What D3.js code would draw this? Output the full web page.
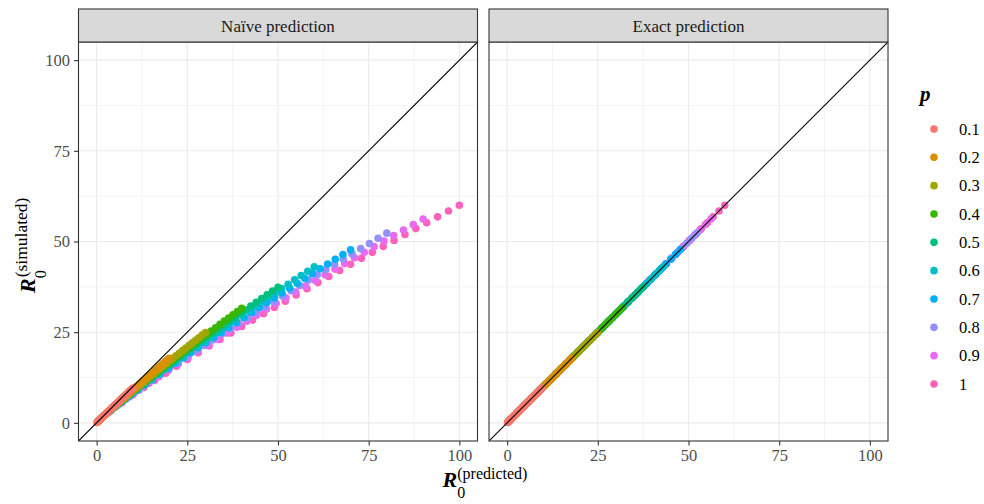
<!DOCTYPE html>
<html><head><meta charset="utf-8">
<script src="https://cdn.jsdelivr.net/npm/d3@7"></script>
<style>body{margin:0;background:#fff}svg{display:block}svg text{font-family:"Liberation Serif","Times New Roman",serif !important}</style>
</head><body>
<svg id="chart" width="984" height="504"></svg>
<script>
// ---- data ----
const pLevels = [0.1,0.2,0.3,0.4,0.5,0.6,0.7,0.8,0.9,1];
const pLabels = ["0.1","0.2","0.3","0.4","0.5","0.6","0.7","0.8","0.9","1"];
const baseR = [1,4,7,10,13,16,19,22,25,28,31,34,37,40,43,46,49,52,55,58,61,64,67,70,73,76,79,82,85,88,91,94,97,100];
const sim_p01 = [0.10,0.41,0.70,1.00,1.29,1.59,1.88,2.17,2.46,2.75,3.04,3.33,3.62,3.90,4.19,4.48,4.76,5.05,5.34,5.62,5.91,6.19,6.48,6.76,7.05,7.33,7.62,7.90,8.18,8.47,8.75,9.03,9.32,9.60];
const sim_p02 = [0.21,0.81,1.38,1.95,2.51,3.06,3.61,4.15,4.70,5.24,5.78,6.31,6.85,7.38,7.91,8.44,8.97,9.49,10.02,10.55,11.07,11.59,12.11,12.63,13.15,13.67,14.19,14.71,15.23,15.74,16.26,16.77,17.29,17.80];
const sim_p03 = [0.32,1.19,2.02,2.82,3.62,4.40,5.18,5.95,6.72,7.48,8.23,8.98,9.73,10.47,11.21,11.95,12.69,13.42,14.15,14.88,15.60,16.33,17.05,17.77,18.49,19.21,19.93,20.64,21.35,22.07,22.78,23.48,24.19,24.90];
const sim_p04 = [0.42,1.55,2.62,3.66,4.68,5.68,6.68,7.66,8.63,9.60,10.56,11.51,12.46,13.40,14.34,15.28,16.21,17.13,18.06,18.98,19.90,20.81,21.72,22.63,23.54,24.44,25.34,26.24,27.14,28.04,28.93,29.82,30.71,31.60];
const sim_p05 = [0.53,1.90,3.19,4.44,5.66,6.86,8.04,9.21,10.36,11.51,12.65,13.78,14.90,16.01,17.12,18.23,19.32,20.42,21.51,22.59,23.67,24.74,25.82,26.88,27.95,29.01,30.07,31.12,32.18,33.23,34.28,35.32,36.37,37.40];
const sim_p06 = [0.63,2.23,3.74,5.19,6.60,7.99,9.35,10.70,12.03,13.35,14.66,15.96,17.25,18.53,19.80,21.07,22.33,23.58,24.83,26.07,27.30,28.53,29.76,30.98,32.20,33.42,34.62,35.83,37.03,38.23,39.43,40.62,41.81,43.00];
const sim_p07 = [0.72,2.55,4.24,5.87,7.45,9.00,10.53,12.03,13.51,14.98,16.44,17.88,19.31,20.73,22.13,23.53,24.93,26.31,27.69,29.06,30.42,31.78,33.13,34.48,35.82,37.16,38.49,39.82,41.14,42.46,43.78,45.09,46.40,47.70];
const sim_p08 = [0.82,2.86,4.74,6.54,8.29,10.00,11.67,13.33,14.96,16.57,18.16,19.74,21.31,22.86,24.41,25.94,27.46,28.98,30.48,31.98,33.47,34.95,36.43,37.89,39.36,40.82,42.27,43.72,45.16,46.60,48.03,49.45,50.88,52.30];
const sim_p09 = [0.91,3.15,5.20,7.15,9.04,10.89,12.70,14.49,16.24,17.98,19.69,21.39,23.07,24.74,26.39,28.04,29.67,31.29,32.90,34.50,36.09,37.68,39.25,40.82,42.39,43.94,45.50,47.04,48.58,50.11,51.64,53.16,54.68,56.19];
const sim_p10 = [1.00,3.43,5.64,7.75,9.78,11.76,13.71,15.62,17.50,19.35,21.18,22.99,24.79,26.57,28.33,30.08,31.82,33.55,35.27,36.97,38.67,40.35,42.03,43.70,45.36,47.01,48.66,50.30,51.93,53.56,55.18,56.79,58.41,60.00];
const simulated = [sim_p01,sim_p02,sim_p03,sim_p04,sim_p05,sim_p06,sim_p07,sim_p08,sim_p09,sim_p10];
const panelTitles = ["Naïve prediction","Exact prediction"];
const axisTicks = [0,25,50,75,100];
const minorTicks = [12.5,37.5,62.5,87.5];
const colors = ["#F8766D","#D89000","#A3A500","#39B600","#00BF7D","#00BFC4","#00B0F6","#9590FF","#E76BF3","#FF62BC"];

// ---- layout ----
const FONT = "Liberation Serif";
const svg = d3.select("#chart");
const plotTop = 42, plotBottom = 441, stripTop = 9;
const panels = [{x0:78.5,x1:477.5},{x0:489,x1:888}];
const y = d3.scaleLinear().domain([-5,105]).range([plotBottom, plotTop]);
const color = d3.scaleOrdinal().domain(pLabels).range(colors);
const dotR = 3.8;

const defs = svg.append("defs");
panels.forEach((pn,i)=>{
  defs.append("clipPath").attr("id","clip"+i).append("rect")
    .attr("x",pn.x0).attr("y",plotTop).attr("width",pn.x1-pn.x0).attr("height",plotBottom-plotTop);
});

panels.forEach((pn,i)=>{
  const x = d3.scaleLinear().domain([-5,105]).range([pn.x0,pn.x1]);
  const g = svg.append("g");
  g.append("rect").attr("x",pn.x0).attr("y",plotTop).attr("width",pn.x1-pn.x0).attr("height",plotBottom-plotTop).attr("fill","#fff");
  minorTicks.forEach(t=>{
    g.append("line").attr("x1",x(t)).attr("x2",x(t)).attr("y1",plotTop).attr("y2",plotBottom).attr("stroke","#EBEBEB").attr("stroke-width",0.6);
    g.append("line").attr("y1",y(t)).attr("y2",y(t)).attr("x1",pn.x0).attr("x2",pn.x1).attr("stroke","#EBEBEB").attr("stroke-width",0.6);
  });
  axisTicks.forEach(t=>{
    g.append("line").attr("x1",x(t)).attr("x2",x(t)).attr("y1",plotTop).attr("y2",plotBottom).attr("stroke","#EBEBEB").attr("stroke-width",1.1);
    g.append("line").attr("y1",y(t)).attr("y2",y(t)).attr("x1",pn.x0).attr("x2",pn.x1).attr("stroke","#EBEBEB").attr("stroke-width",1.1);
  });
  const pts = g.append("g").attr("clip-path","url(#clip"+i+")");
  for (let s = pLevels.length-1; s>=0; s--) {
    const p = pLevels[s];
    const data = baseR.map((r,j)=>({px: i===0 ? p*r : simulated[s][j], sy: simulated[s][j]}));
    pts.selectAll(null).data(data).enter().append("circle")
      .attr("cx",d=>x(d.px)).attr("cy",d=>y(d.sy)).attr("r",dotR)
      .attr("fill",color(pLabels[s]));
  }
  pts.append("line").attr("x1",x(-5)).attr("y1",y(-5)).attr("x2",x(105)).attr("y2",y(105))
    .attr("stroke","#000").attr("stroke-width",1.1);
  g.append("rect").attr("x",pn.x0).attr("y",plotTop).attr("width",pn.x1-pn.x0).attr("height",plotBottom-plotTop)
    .attr("fill","none").attr("stroke","#333333").attr("stroke-width",1.1);
  g.append("rect").attr("x",pn.x0).attr("y",stripTop).attr("width",pn.x1-pn.x0).attr("height",plotTop-stripTop)
    .attr("fill","#D9D9D9").attr("stroke","#333333").attr("stroke-width",1.1);
  g.append("text").attr("x",(pn.x0+pn.x1)/2).attr("y",32).attr("text-anchor","middle")
    .attr("font-family",FONT).attr("font-size",17).attr("fill","#1A1A1A").text(panelTitles[i]);
  const xa = g.append("g").attr("transform",`translate(0,${plotBottom})`)
    .call(d3.axisBottom(x).tickValues(axisTicks).tickSize(4.5).tickPadding(4).tickFormat(d3.format("d")));
  xa.attr("font-family",FONT);
  xa.select(".domain").remove();
  xa.selectAll(".tick line").attr("stroke","#333333").attr("stroke-width",1.1);
  xa.selectAll(".tick text").attr("font-size",16.5).attr("fill","#4D4D4D").attr("font-family",FONT);
  if (i===0) {
    const ya = g.append("g").attr("transform",`translate(${pn.x0},0)`)
      .call(d3.axisLeft(y).tickValues(axisTicks).tickSize(4.5).tickPadding(4).tickFormat(d3.format("d")));
    ya.attr("font-family",FONT);
    ya.select(".domain").remove();
    ya.selectAll(".tick line").attr("stroke","#333333").attr("stroke-width",1.1);
    ya.selectAll(".tick text").attr("font-size",16.5).attr("fill","#4D4D4D").attr("font-family",FONT);
  }
});

const xt = svg.append("text").attr("x",485).attr("y",487).attr("text-anchor","middle").attr("font-family",FONT);
xt.append("tspan").attr("font-size",22).attr("font-weight","bold").attr("font-style","italic").text("R");
xt.append("tspan").attr("font-size",16).attr("dy",11).text("0");
xt.append("tspan").attr("font-size",16).attr("dy",-19).attr("dx",-8).text("(predicted)");

const yt = svg.append("text").attr("transform","translate(35,293) rotate(-90)").attr("text-anchor","start").attr("font-family",FONT);
yt.append("tspan").attr("font-size",22).attr("font-weight","bold").attr("font-style","italic").text("R");
yt.append("tspan").attr("font-size",16).attr("dy",11).text("0");
yt.append("tspan").attr("font-size",17.5).attr("dy",-19).attr("dx",-7).text("(simulated)");

const lg = svg.append("g").attr("font-family",FONT);
lg.append("text").attr("x",920).attr("y",101).attr("font-size",21).attr("font-weight","bold").attr("font-style","italic").text("p");
const ly = d3.scalePoint().domain(pLabels).range([129,384]);
pLabels.forEach(l=>{
  lg.append("circle").attr("cx",934).attr("cy",ly(l)).attr("r",dotR).attr("fill",color(l));
  lg.append("text").attr("x",959).attr("y",ly(l)+5.8).attr("font-size",16.5).attr("fill","#000").text(l);
});
</script>
</body></html>
